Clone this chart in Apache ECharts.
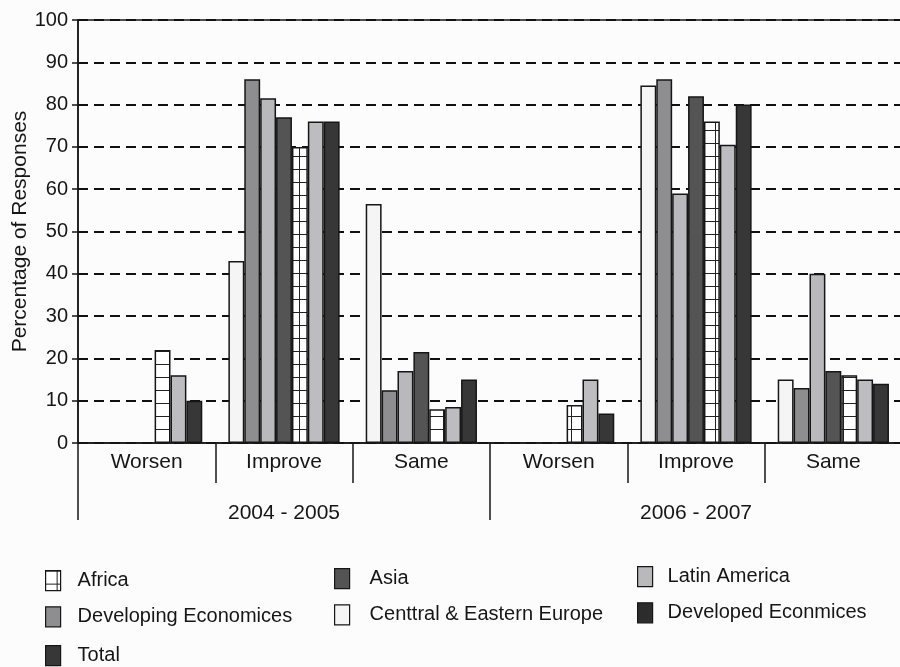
<!DOCTYPE html>
<html>
<head>
<meta charset="utf-8">
<script src="https://cdn.jsdelivr.net/npm/echarts@6/dist/echarts.min.js"></script>
<style>
  html, body { margin: 0; padding: 0; background: #fcfcfc; overflow: hidden; }
  #chart { width: 900px; height: 667px; }
</style>
</head>
<body>
<div id="chart"></div>
<script>
// Response categories, grouped by survey period
const categories = ['Worsen', 'Improve', 'Same', 'Worsen', 'Improve', 'Same'];
const periods = ['2004 - 2005', '2006 - 2007'];
const yTicks = [0, 10, 20, 30, 40, 50, 60, 70, 80, 90, 100];

// Percentage of responses per region (null = no bar drawn)
const centralEasternEurope = [null, 43, 56.5, null, 84.5, 15];
const developingEconomies  = [null, 86, 12.5, null, 86, 13];
const latinAmerica         = [null, 81.5, 17, null, 59, 40];
const asia                 = [null, 77, 21.5, null, 82, 17];
const africa               = [22, 70, 8, 9, 76, 16];
const developedEconomies   = [16, 76, 8.5, 15, 70.5, 15];
const total                = [10, 76, 15, 7, 80, 14];

// Brick-style grid fill used for Africa
function gridPattern() {
  const c = document.createElement('canvas');
  c.width = 16; c.height = 13;
  const g = c.getContext('2d');
  g.fillStyle = '#ffffff';
  g.fillRect(0, 0, 16, 13);
  g.strokeStyle = '#222';
  g.lineWidth = 1;
  g.beginPath();
  g.moveTo(0, 0.5); g.lineTo(16, 0.5);
  g.moveTo(11.5, 0); g.lineTo(11.5, 13);
  g.stroke();
  return { image: c, repeat: 'repeat' };
}

const font = '"Liberation Sans", Arial, sans-serif';
const ink = '#161616';

const chart = echarts.init(document.getElementById('chart'), null, { renderer: 'canvas' });

function bar(name, data, fill) {
  return {
    name: name,
    type: 'bar',
    data: data,
    barGap: '0%',
    barCategoryGap: '19%',
    itemStyle: { color: fill, borderColor: ink, borderWidth: 1.5 },
    emphasis: { disabled: true }
  };
}

function legendColumn(left, top, gapToText, names) {
  return {
    orient: 'vertical', left: left, top: top, height: 90,
    itemWidth: 15, itemHeight: 20, itemGap: 15, padding: 0,
    selectedMode: false, icon: 'rect',
    itemStyle: { borderColor: ink, borderWidth: 1.2 },
    textStyle: { fontFamily: font, fontSize: 20, lineHeight: 20, color: ink, padding: [0, 0, 0, gapToText] },
    data: names
  };
}

chart.setOption({
  backgroundColor: '#fcfcfc',
  animation: false,
  grid: {
    left: 78, top: 20, width: 824, height: 423,
    outerBoundsMode: 'none', containLabel: false,
    show: true, borderColor: ink, borderWidth: 1.5, backgroundColor: 'transparent'
  },
  legend: [
    legendColumn(45, 570, 12, [{ name: 'Africa' }, { name: 'Developing Economices' }]),
    legendColumn(45, 645, 12, [{ name: 'Total' }]),
    legendColumn(334, 568, 15, [{ name: 'Asia' }, { name: 'Centtral & Eastern Europe' }]),
    legendColumn(637, 566, 10, [{ name: 'Latin America' },
      { name: 'Developed Econmices', itemStyle: { color: '#2c2c2c' } }])
  ],
  xAxis: [
    {
      type: 'category',
      data: categories,
      axisLine: { lineStyle: { color: ink, width: 1.5 } },
      axisTick: { show: true, interval: 0, length: 40, lineStyle: { color: ink, width: 1.5 } },
      axisLabel: { interval: 0, margin: 9, fontFamily: font, fontSize: 21, color: ink }
    },
    {
      type: 'category',
      data: periods,
      position: 'bottom',
      axisLine: { show: false },
      axisTick: { show: true, interval: 0, length: 77, lineStyle: { color: ink, width: 1.5 } },
      axisLabel: { interval: 0, margin: 60, fontFamily: font, fontSize: 21, color: ink }
    }
  ],
  yAxis: {
    type: 'value',
    min: yTicks[0],
    max: yTicks[yTicks.length - 1],
    interval: 10,
    name: 'Percentage of Responses',
    nameLocation: 'middle',
    nameGap: 47,
    nameMoveOverlap: false,
    nameTextStyle: { fontFamily: font, fontSize: 21, color: ink },
    axisLine: { show: true, lineStyle: { color: ink, width: 1.5 } },
    axisTick: { show: true, length: 6, lineStyle: { color: ink, width: 1.5 } },
    axisLabel: { margin: 10, fontFamily: font, fontSize: 20, color: ink },
    splitLine: { show: true, lineStyle: { color: '#111', width: 2, type: [10, 6] } }
  },
  series: [
    bar('Centtral & Eastern Europe', centralEasternEurope, '#f5f5f5'),
    bar('Developing Economices', developingEconomies, '#8e8e90'),
    bar('Latin America', latinAmerica, '#b9b9bd'),
    bar('Asia', asia, '#545454'),
    bar('Africa', africa, gridPattern()),
    bar('Developed Econmices', developedEconomies, '#bdbdc1'),
    bar('Total', total, '#373737')
  ]
});
</script>
</body>
</html>
